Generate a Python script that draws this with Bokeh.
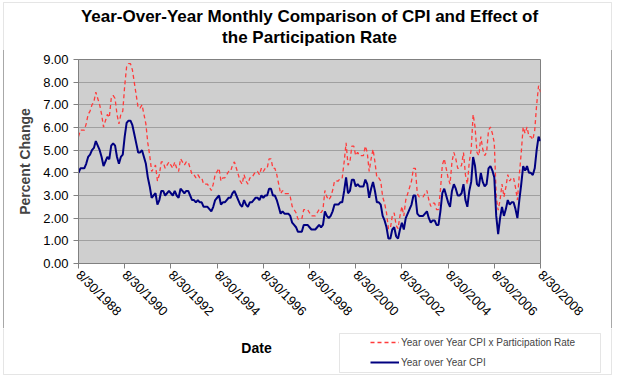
from bokeh.plotting import figure
from bokeh.models import (FixedTicker, Label, Legend, LegendItem, BoxAnnotation,
                          ColumnDataSource, Range1d)
from bokeh.embed import file_html
from bokeh.resources import INLINE

# Monthly data, Aug 1988 .. Aug 2008
cpi = [
    4.0, 4.2, 4.2, 4.2, 4.4,
    4.7, 4.8, 5.0, 5.1, 5.4, 5.2, 5.0, 4.7, 4.3, 4.5, 4.7, 4.6,
    5.2, 5.3, 5.2, 4.7, 4.4, 4.7, 4.8, 5.6, 6.2, 6.3, 6.3, 6.1,
    5.7, 5.3, 4.9, 4.9, 5.0, 4.7, 4.4, 3.8, 3.4, 2.9, 3.0, 3.1,
    2.6, 2.8, 3.2, 3.2, 3.0, 3.1, 3.2, 3.1, 3.0, 3.2, 3.0, 2.9,
    3.3, 3.2, 3.1, 3.2, 3.2, 3.0, 2.8, 2.8, 2.7, 2.8, 2.7, 2.7,
    2.5, 2.5, 2.5, 2.4, 2.3, 2.5, 2.8, 2.9, 3.0, 2.6, 2.7, 2.7,
    2.8, 2.9, 2.9, 3.1, 3.2, 3.0, 2.8, 2.6, 2.5, 2.8, 2.6, 2.5,
    2.7, 2.7, 2.8, 2.9, 2.9, 2.8, 3.0, 2.9, 3.0, 3.0, 3.3, 3.3,
    3.0, 3.0, 2.8, 2.5, 2.2, 2.3, 2.2, 2.2, 2.2, 2.1, 1.8, 1.7,
    1.6, 1.4, 1.4, 1.4, 1.7, 1.7, 1.7, 1.6, 1.5, 1.5, 1.5, 1.6,
    1.7, 1.6, 1.7, 2.3, 2.1, 2.0, 2.1, 2.3, 2.6, 2.6, 2.6, 2.7,
    2.7, 3.2, 3.8, 3.1, 3.2, 3.7, 3.7, 3.4, 3.5, 3.4, 3.4, 3.4,
    3.7, 3.5, 2.9, 3.3, 3.6, 3.2, 2.7, 2.7, 2.6, 2.1, 1.9, 1.6,
    1.1, 1.1, 1.5, 1.6, 1.2, 1.1, 1.5, 1.8, 1.5, 2.0, 2.2, 2.4,
    2.6, 3.0, 3.0, 2.2, 2.1, 2.1, 2.1, 2.2, 2.3, 2.0, 1.8, 1.9,
    1.9, 1.7, 1.7, 2.3, 3.1, 3.3, 3.0, 2.7, 2.5, 3.2, 3.5, 3.3,
    3.0, 3.0, 3.1, 3.5, 2.8, 2.5, 3.2, 3.6, 4.7, 4.3, 3.5, 3.4,
    4.0, 3.6, 3.4, 3.5, 4.2, 4.3, 4.1, 3.8, 2.1, 1.3, 2.0, 2.5,
    2.1, 2.4, 2.8, 2.6, 2.7, 2.7, 2.4, 2.0, 2.8, 3.5, 4.3, 4.1,
    4.3, 4.0, 4.0, 3.9, 4.2, 5.0, 5.6, 5.4,
]

cpi_x_part = [
    5.60, 5.88, 5.88, 5.88, 6.16,
    6.58, 6.72, 7.00, 7.14, 7.56, 7.28, 7.00, 6.58, 6.02, 6.30, 6.58, 6.44,
    7.28, 7.42, 7.28, 6.58, 6.16, 6.58, 6.72, 7.84, 8.68, 8.82, 8.82, 8.54,
    7.98, 7.42, 6.86, 6.86, 7.00, 6.58, 6.16, 5.32, 4.76, 4.06, 4.20, 4.34,
    3.64, 3.92, 4.48, 4.48, 4.20, 4.34, 4.48, 4.34, 4.20, 4.48, 4.20, 4.06,
    4.62, 4.48, 4.34, 4.48, 4.48, 4.20, 3.92, 3.92, 3.78, 3.92, 3.78, 3.78,
    3.50, 3.50, 3.50, 3.36, 3.22, 3.50, 3.92, 4.06, 4.20, 3.64, 3.78, 3.78,
    3.92, 4.06, 4.06, 4.34, 4.48, 4.20, 3.92, 3.64, 3.50, 3.92, 3.64, 3.50,
    3.78, 3.78, 3.92, 4.06, 4.06, 3.92, 4.20, 4.06, 4.20, 4.20, 4.62, 4.62,
    4.20, 4.20, 3.92, 3.50, 3.08, 3.22, 3.08, 3.08, 3.08, 2.94, 2.52, 2.38,
    2.24, 1.96, 1.96, 1.96, 2.38, 2.38, 2.38, 2.24, 2.10, 2.10, 2.10, 2.24,
    2.38, 2.24, 2.38, 3.22, 2.94, 2.80, 2.94, 3.22, 3.64, 3.64, 3.64, 3.78,
    3.78, 4.48, 5.32, 4.34, 4.48, 5.18, 5.18, 4.76, 4.90, 4.76, 4.76, 4.76,
    5.18, 4.90, 4.06, 4.62, 5.04, 4.48, 3.78, 3.78, 3.64, 2.94, 2.66, 2.24,
    1.54, 1.54, 2.10, 2.24, 1.68, 1.54, 2.10, 2.52, 2.10, 2.80, 3.08, 3.36,
    3.64, 4.20, 4.20, 3.08, 2.94, 2.94, 2.94, 3.08, 3.22, 2.80, 2.52, 2.66,
    2.66, 2.38, 2.38, 3.22, 4.34, 4.62, 4.20, 3.78, 3.50, 4.48, 4.90, 4.62,
    4.20, 4.20, 4.34, 4.90, 3.92, 3.50, 4.48, 5.04, 6.58, 6.02, 4.90, 4.76,
    5.60, 5.04, 4.76, 4.90, 5.88, 6.02, 5.74, 5.32, 2.94, 2.35, 2.80, 3.50,
    2.94, 3.36, 3.92, 3.64, 3.78, 3.78, 3.36, 2.80, 3.92, 4.90, 6.02, 5.74,
    6.02, 5.60, 5.60, 5.46, 5.88, 7.00, 7.84, 7.56,
]

tick_labels = ["8/30/1988", "8/30/1990", "8/30/1992", "8/30/1994", "8/30/1996",
               "8/30/1998", "8/30/2000", "8/30/2002", "8/30/2004", "8/30/2006",
               "8/30/2008"]
y_ticks = [0, 1, 2, 3, 4, 5, 6, 7, 8, 9]
series_names = ["Year over Year CPI x Participation Rate", "Year over Year CPI"]
title_lines = ["Year-Over-Year Monthly Comparison of CPI and Effect of",
               "the Participation Rate"]

months = list(range(len(cpi)))
src = ColumnDataSource(data=dict(m=months, cpi=cpi, part=cpi_x_part))

FONT = "Liberation Sans"
W = 625
TOP_H, MAIN_H, BOT_H = 50, 278, 48
RED, BLUE = "#FF3B3B", "#000080"
BORDER = "#A8A8A8"
OX0, OX1 = 3, 611          # outer chart border, x in px


def blank(height):
    f = figure(width=W, height=height, output_backend="svg", toolbar_location=None,
               x_range=Range1d(0, W), y_range=Range1d(height, 0),
               x_axis_location=None, y_axis_location=None,
               min_border=0, min_border_left=0, min_border_right=0,
               min_border_top=0, min_border_bottom=0)
    f.grid.visible = False
    f.outline_line_color = None
    f.background_fill_color = "white"
    f.border_fill_color = "white"
    return f


# ---- title strip ----
top = blank(TOP_H)
top.add_layout(BoxAnnotation(left=OX0, right=OX1, top=2, bottom=TOP_H + 20,
                             fill_alpha=0, line_color=BORDER, line_width=1))
for txt, yy in zip(title_lines, (16, 37)):
    top.add_layout(Label(x=309, y=yy, text=txt, text_align="center",
                         text_baseline="middle", text_font=FONT,
                         text_font_style="bold", text_font_size="17px",
                         text_color="black"))

# ---- main chart ----
FL, FR = 78, 540
gradient = ("linear-gradient(to right, transparent %dpx, %s %dpx, %s %dpx, "
            "transparent %dpx, transparent %dpx, %s %dpx, %s %dpx, transparent %dpx)"
            % (OX0, BORDER, OX0, BORDER, OX0 + 1, OX0 + 1,
               OX1, BORDER, OX1, BORDER, OX1 + 1, OX1 + 1))
p = figure(width=W, height=MAIN_H, output_backend="svg", toolbar_location=None,
           x_range=Range1d(0, len(cpi) - 1), y_range=Range1d(0, 9),
           min_border_left=FL, min_border_right=W - FR,
           min_border_top=9, min_border_bottom=65,
           styles={"background-image": gradient})
p.background_fill_color = "#CFCFCF"
p.border_fill_alpha = 0
p.outline_line_color = "#808080"

tick_pos = [i * 24 for i in range(len(tick_labels))]
p.xaxis.ticker = FixedTicker(ticks=tick_pos)
p.xaxis.major_label_overrides = {t: lab for t, lab in zip(tick_pos, tick_labels)}
p.xaxis.major_label_orientation = -0.785398
p.yaxis.ticker = FixedTicker(ticks=y_ticks)
p.yaxis.major_label_overrides = {t: "%.2f" % t for t in y_ticks}
for ax in (p.xaxis, p.yaxis):
    ax.axis_line_color = "#808080"
    ax.major_tick_line_color = "#808080"
    ax.major_tick_out = 5
    ax.major_tick_in = 0
    ax.minor_tick_line_color = None
    ax.major_label_text_font = FONT
    ax.major_label_text_font_size = "13px"
    ax.major_label_text_color = "black"
p.xaxis.major_label_standoff = 4
p.yaxis.major_label_standoff = 5
p.yaxis.axis_label = "Percent Change"
p.yaxis.axis_label_text_font = FONT
p.yaxis.axis_label_text_font_style = "bold"
p.yaxis.axis_label_text_font_size = "14px"
p.yaxis.axis_label_standoff = 7

p.xgrid.grid_line_color = None
p.ygrid.grid_line_color = "#A0A0A0"

p.line("m", "part", source=src, line_color=RED, line_width=1.3, line_dash="4 3")
p.line("m", "cpi", source=src, line_color=BLUE, line_width=2)

# ---- bottom strip: axis title and legend ----
bot = blank(BOT_H)
bot.add_layout(BoxAnnotation(left=OX0, right=OX1, top=-20, bottom=BOT_H - 2,
                             fill_alpha=0, line_color=BORDER, line_width=1))
bot.add_layout(BoxAnnotation(left=339, right=600, top=5, bottom=44,
                             fill_color="white", fill_alpha=1,
                             line_color=BORDER, line_width=1))
# legend-only renderers: one-row sources placed outside the visible strip
key_src = ColumnDataSource(data=dict(x=[-50, -40], y=[-50, -50]))
lr = bot.line("x", "y", source=key_src, line_color=RED, line_width=1.3,
              line_dash="4 3")
lb = bot.line("x", "y", source=key_src, line_color=BLUE, line_width=2)
legend = Legend(items=[LegendItem(label=series_names[0], renderers=[lr]),
                       LegendItem(label=series_names[1], renderers=[lb])],
                location=(370, 8),
                border_line_alpha=0, background_fill_alpha=0,
                glyph_width=29, glyph_height=12, label_height=12, label_standoff=2,
                spacing=8, padding=0, margin=0,
                label_text_font=FONT, label_text_font_size="10px")
bot.add_layout(legend, "center")
bot.add_layout(Label(x=256, y=19, text="Date", text_align="center",
                     text_baseline="middle", text_font=FONT,
                     text_font_style="bold", text_font_size="14px",
                     text_color="black"))

with open("out.html", "w") as f:
    f.write(file_html([top, p, bot], INLINE))
